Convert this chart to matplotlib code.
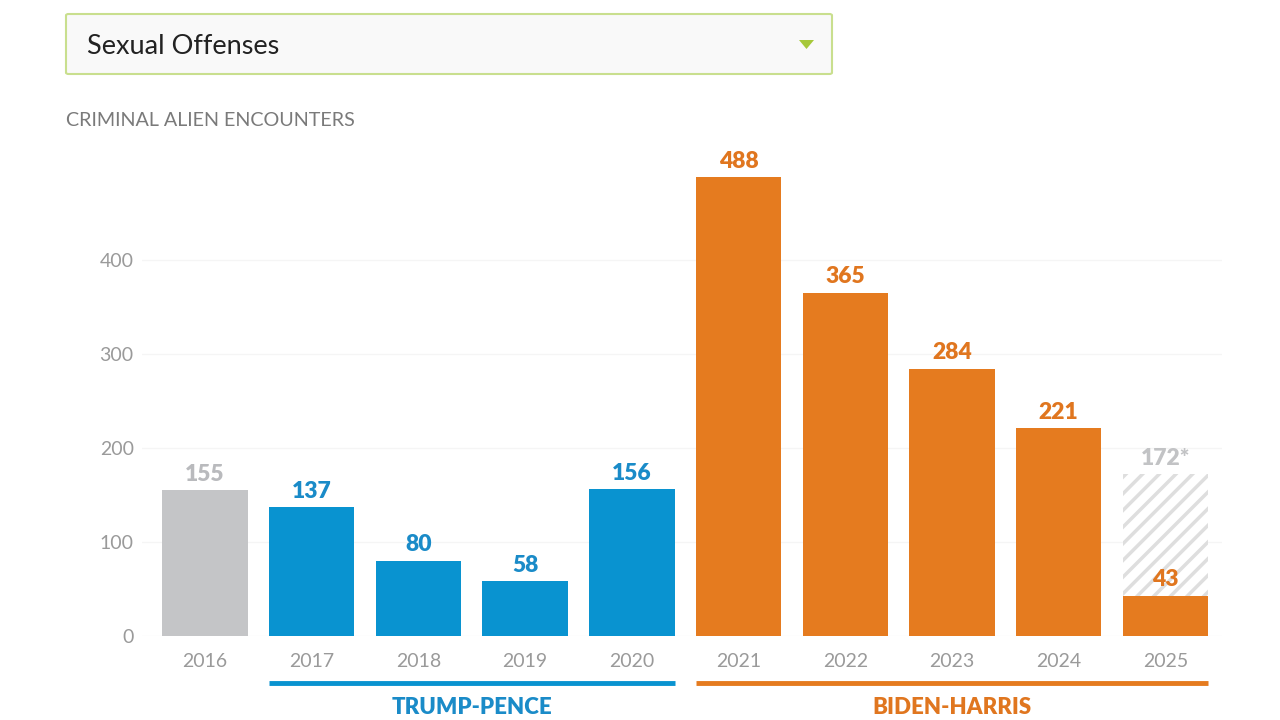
import matplotlib.pyplot as plt
import matplotlib.patches as mpatches
import matplotlib.transforms as mtransforms
import numpy as np

years = ['2016', '2017', '2018', '2019', '2020', '2021', '2022', '2023', '2024', '2025']
counts = [155, 137, 80, 58, 156, 488, 365, 284, 221, 43]
projected_2025 = 172
parties = ['none', 'trump', 'trump', 'trump', 'trump', 'biden', 'biden', 'biden', 'biden', 'biden']
periods = ['TRUMP-PENCE', 'BIDEN-HARRIS']
yticks = [0, 100, 200, 300, 400]

bar_col = {'none': '#c4c5c7', 'trump': '#0993d0', 'biden': '#e57b1f'}
txt_col = {'none': '#b9babd', 'trump': '#1a8bc8', 'biden': '#e0761f'}

plt.rcParams['font.family'] = ['Lato', 'DejaVu Sans']
plt.rcParams['hatch.linewidth'] = 2.5
plt.rcParams['hatch.color'] = '#dedede'

fig = plt.figure(figsize=(12.8, 7.2), dpi=100)
fig.patch.set_facecolor('white')

# dropdown box at the top
box = mpatches.FancyBboxPatch((66 / 1280, 1 - 74 / 720), (832 - 66) / 1280, 60 / 720,
                              boxstyle='round,pad=0,rounding_size=0.002',
                              transform=fig.transFigure, facecolor='#f9f9f9',
                              edgecolor='#c9df8e', linewidth=1.5)
fig.patches.append(box)
fig.text(87 / 1280, 1 - 46 / 720, 'Sexual Offenses', fontsize=19.5, color='#222222',
         va='center', ha='left')
tri = mpatches.Polygon([[799 / 1280, 1 - 40 / 720], [814 / 1280, 1 - 40 / 720],
                        [806.5 / 1280, 1 - 49 / 720]], closed=True,
                       transform=fig.transFigure, facecolor='#a6c83a', edgecolor='none')
fig.patches.append(tri)
fig.text(66 / 1280, 1 - 120 / 720, 'CRIMINAL ALIEN ENCOUNTERS', fontsize=14.2,
         color='#7a7a7a', va='center', ha='left')

# main axes
ax = fig.add_axes([142 / 1280, 1 - 636 / 720, 1080 / 1280, 488.8 / 720])
x = np.arange(len(years))
w = 0.8

# hatched projection for 2025
ax.bar(x[-1], projected_2025, width=w, color='white', edgecolor='#dedede',
       hatch='//', linewidth=0, zorder=2)
ax.bar(x, counts, width=w, color=[bar_col[p] for p in parties], zorder=3)

for i, v in enumerate(counts):
    ax.text(x[i], v + 6, str(v), ha='center', va='bottom', fontsize=16.5,
            fontweight='heavy', color=txt_col[parties[i]], zorder=4)
ax.text(x[-1], projected_2025 + 6, '%d*' % projected_2025, ha='center', va='bottom',
        fontsize=16.5, fontweight='heavy', color='#c2c3c5', zorder=4)

ax.set_xlim(-0.59, 9.53)
ax.set_ylim(0, 520)
ax.set_yticks(yticks)
ax.set_yticklabels([str(t) for t in yticks])
ax.set_xticks(x)
ax.set_xticklabels(years)
ax.tick_params(axis='both', length=0, labelsize=14, labelcolor='#9a9a9a')
ax.tick_params(axis='x', pad=12)
ax.tick_params(axis='y', pad=6)
ax.grid(axis='y', color='#f5f5f5', linewidth=1, zorder=0)
ax.set_axisbelow(True)
for s in ax.spines.values():
    s.set_visible(False)

# administration brackets under the years
trans = mtransforms.blended_transform_factory(ax.transData, ax.transAxes)
spans = [(1, 4, bar_col['trump'], txt_col['trump']), (5, 9, bar_col['biden'], txt_col['biden'])]
for (a, b, lc, tc), name in zip(spans, periods):
    ax.plot([a - w / 2, b + w / 2], [-0.096, -0.096], color=lc, linewidth=3.5,
            transform=trans, clip_on=False, solid_capstyle='butt')
    ax.text((a + b) / 2, -0.147, name, transform=trans, ha='center', va='center',
            fontsize=16, fontweight='heavy', color=tc)

fig.savefig('out.png', dpi=100, facecolor='white')
